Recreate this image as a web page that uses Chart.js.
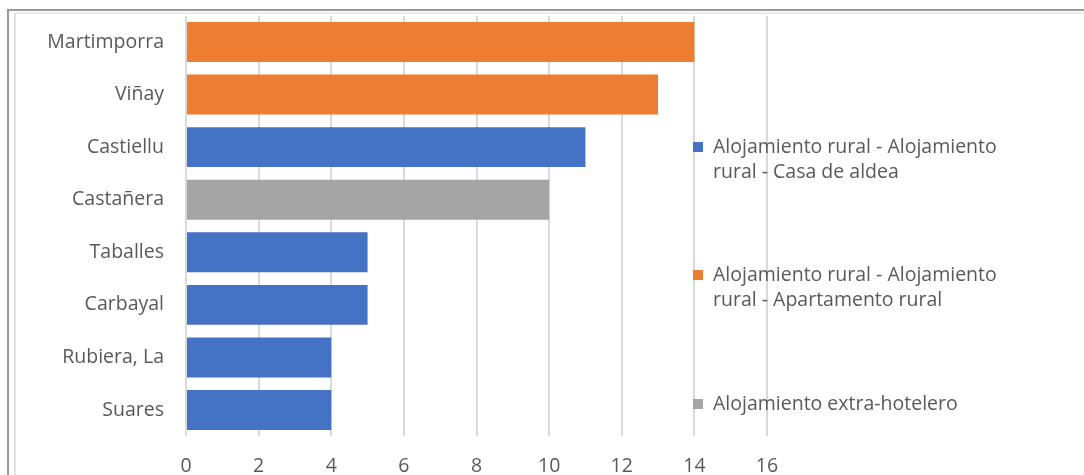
<!DOCTYPE html>
<html>
<head>
<meta charset="utf-8">
<script src="https://cdn.jsdelivr.net/npm/chart.js@4/dist/chart.umd.min.js"></script>
<style>
  html, body { margin: 0; padding: 0; background: #fff; }
  #wrap { position: relative; width: 1084px; height: 475px; overflow: hidden; }
  .frame1 { position: absolute; left: 7px; top: 9px; width: 1200px; height: 600px; border-left: 2px solid #9a9a9a; border-top: 2px solid #9a9a9a; }
  .frame2 { position: absolute; left: 14px; top: 12px; width: 1200px; height: 600px; border-left: 2px solid #e2e2e2; border-top: 2px solid #ececec; }
  canvas { position: absolute; left: 0; top: 0; }
</style>
</head>
<body>
<div id="wrap">
  <div class="frame1"></div>
  <div class="frame2"></div>
  <canvas id="chart" width="1084" height="475"></canvas>
</div>
<script>
// Datos
const categorias = ['Martimporra', 'Viñay', 'Castiellu', 'Castañera', 'Taballes', 'Carbayal', 'Rubiera, La', 'Suares'];
const valores = [14, 13, 11, 10, 5, 5, 4, 4];
const tipo = [1, 1, 0, 2, 0, 0, 0, 0]; // indice de la serie de cada categoria
const series = [
  ['Alojamiento rural - Alojamiento', 'rural - Casa de aldea'],
  ['Alojamiento rural - Alojamiento', 'rural - Apartamento rural'],
  ['Alojamiento extra-hotelero']
];
const colores = ['#4472C4', '#ED7D31', '#A5A5A5'];
const ticksX = [0, 2, 4, 6, 8, 10, 12, 14, 16];

const FONT = "'Open Sans', sans-serif";
const GRIS = '#595959';
const TAM = 19.5;

const datasets = series.map((s, i) => ({
  label: s.join(' '),
  data: valores.map((v, j) => tipo[j] === i ? v : null),
  backgroundColor: colores[i],
  borderWidth: 0,
  categoryPercentage: 1,
  barPercentage: 0.76,
  skipNull: true
}));

// Leyenda a mano (texto en dos lineas)
const leyenda = {
  id: 'leyenda',
  afterDraw(chart) {
    const ctx = chart.ctx;
    const pos = [147, 275, 404];
    ctx.save();
    ctx.font = TAM + 'px ' + FONT;
    ctx.textBaseline = 'middle';
    ctx.textAlign = 'left';
    series.forEach((lineas, i) => {
      ctx.fillStyle = colores[i];
      ctx.fillRect(693, pos[i] - 5, 10, 10);
      ctx.fillStyle = GRIS;
      lineas.forEach((t, k) => ctx.fillText(t, 713, pos[i] + k * 25));
    });
    ctx.restore();
  }
};

new Chart(document.getElementById('chart'), {
  type: 'bar',
  data: { labels: categorias, datasets: datasets },
  options: {
    indexAxis: 'y',
    responsive: false,
    animation: false,
    layout: { padding: { left: 15, right: 317, top: 15.7, bottom: 0 } },
    plugins: { legend: { display: false }, tooltip: { enabled: false } },
    scales: {
      x: {
        min: 0, max: 16,
        afterBuildTicks: s => { s.ticks = ticksX.map(v => ({ value: v })); },
        afterFit: s => { s.height = 38.7; s.paddingLeft = 0; s.paddingRight = 0; },
        grid: { color: '#d9d9d9', lineWidth: 2, drawTicks: false },
        border: { display: false },
        ticks: { color: GRIS, font: { family: FONT, size: TAM }, padding: 18 }
      },
      y: {
        afterFit: s => { s.width = 171; s.paddingTop = 0; s.paddingBottom = 0; },
        grid: { display: false },
        border: { display: false },
        ticks: { color: GRIS, font: { family: FONT, size: TAM }, padding: 14 }
      }
    }
  },
  plugins: [leyenda]
});
</script>
</body>
</html>
